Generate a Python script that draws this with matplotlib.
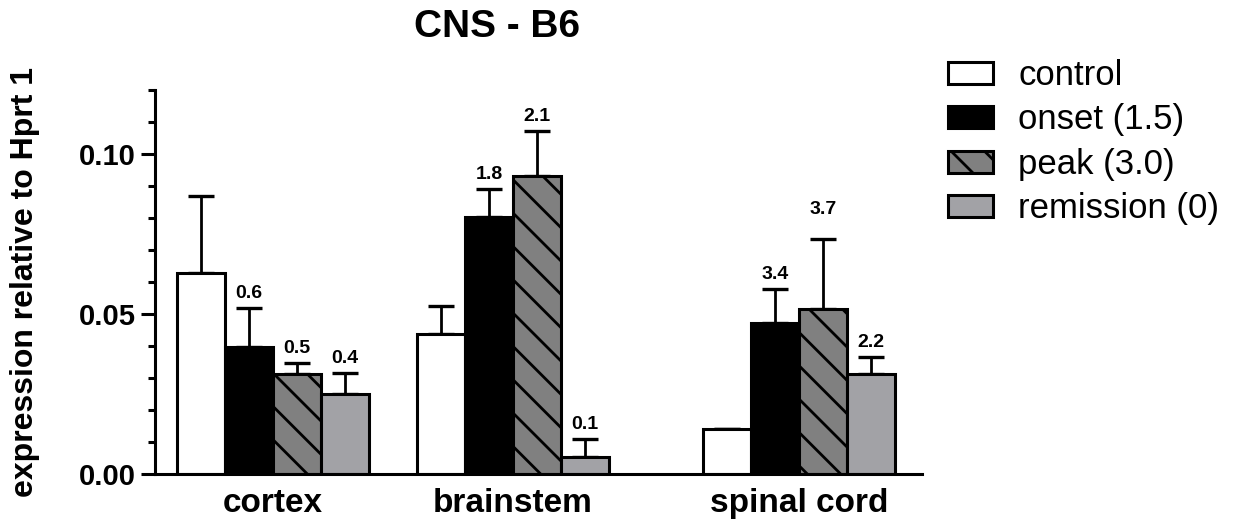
import numpy as np
import matplotlib
matplotlib.use("Agg")
import matplotlib.pyplot as plt
from matplotlib.ticker import MultipleLocator, FormatStrFormatter

# expression relative to Hprt 1, mean and upper SEM per tissue
tissues = ["cortex", "brainstem", "spinal cord"]
groups = ["control", "onset (1.5)", "peak (3.0)", "remission (0)"]

control = [0.0629, 0.0437, 0.0140]
onset = [0.0398, 0.0804, 0.0473]
peak = [0.0313, 0.0932, 0.0515]
remission = [0.0249, 0.0054, 0.0311]

control_err = [0.0241, 0.0089, 0.0002]
onset_err = [0.0122, 0.0087, 0.0106]
peak_err = [0.0035, 0.0141, 0.0219]
remission_err = [0.0068, 0.0056, 0.0055]

# fold change vs control printed above the disease bars
onset_fold = ["0.6", "1.8", "3.4"]
peak_fold = ["0.5", "2.1", "3.7"]
remission_fold = ["0.4", "0.1", "2.2"]

plt.rcParams["font.family"] = ["Liberation Sans", "DejaVu Sans"]
plt.rcParams["hatch.linewidth"] = 2.0

fig = plt.figure(figsize=(12.37, 5.21), dpi=100)
ax = fig.add_axes([0.1253, 0.0902, 0.6201, 0.7371])

# group left edges in bar-width units (uneven gaps between tissues)
starts = np.array([0.46, 5.46, 11.42])
lw = 2.2

series = [
    (control, control_err, None, dict(facecolor="white", hatch=None)),
    (onset, onset_err, onset_fold, dict(facecolor="black", hatch=None)),
    (peak, peak_err, peak_fold, dict(facecolor="#808080", hatch="\\")),
    (remission, remission_err, remission_fold, dict(facecolor="#a2a2a6", hatch=None)),
]
extra_lift = {("peak (3.0)", 2): 11}

for i, (vals, errs, folds, style) in enumerate(series):
    xs = starts + i + 0.5
    ax.bar(xs, vals, width=1.0, edgecolor="black", linewidth=lw,
           label=groups[i], zorder=2, **style)
    ax.errorbar(xs, vals, yerr=[np.zeros(len(vals)), errs], fmt="none",
                ecolor="black", elinewidth=2.0, capsize=9.5, capthick=2.4,
                zorder=1)
    if folds is None:
        continue
    for j, (x, v, e, t) in enumerate(zip(xs, vals, errs, folds)):
        lift = 4 + extra_lift.get((groups[i], j), 0)
        ax.annotate(t, (x, v + e), xytext=(0, lift), textcoords="offset points",
                    ha="center", va="bottom", fontsize=14, fontweight="bold")

ax.set_xlim(0, 15.98)
ax.set_ylim(0, 0.12)
ax.yaxis.set_major_locator(MultipleLocator(0.05))
ax.yaxis.set_minor_locator(MultipleLocator(0.01))
ax.yaxis.set_major_formatter(FormatStrFormatter("%.2f"))
ax.tick_params(axis="y", which="major", length=10, width=2.2, labelsize=21, pad=3.5)
ax.tick_params(axis="y", which="minor", length=5, width=2.2)
for lab in ax.get_yticklabels():
    lab.set_fontweight("bold")

ax.set_xticks(starts + 2.0)
ax.set_xticklabels(tissues, fontsize=24, fontweight="bold")
ax.tick_params(axis="x", length=0, pad=10)

for side in ("top", "right"):
    ax.spines[side].set_visible(False)
for side in ("left", "bottom"):
    ax.spines[side].set_linewidth(lw)

ax.set_ylabel("expression relative to Hprt 1", fontsize=23, fontweight="bold",
              va="center")
ax.yaxis.set_label_coords(-0.1695, 0.5)
fig.text(0.4018, 0.929, "CNS - B6", ha="center", va="baseline",
         fontsize=28, fontweight="bold")

leg = fig.legend(loc="upper left", bbox_to_anchor=(0.7664, 0.887),
                 frameon=False, fontsize=25, handlelength=1.3,
                 handleheight=0.6, handletextpad=0.72, labelspacing=0.33,
                 borderpad=0, borderaxespad=0)

fig.savefig("out.png", dpi=100)
